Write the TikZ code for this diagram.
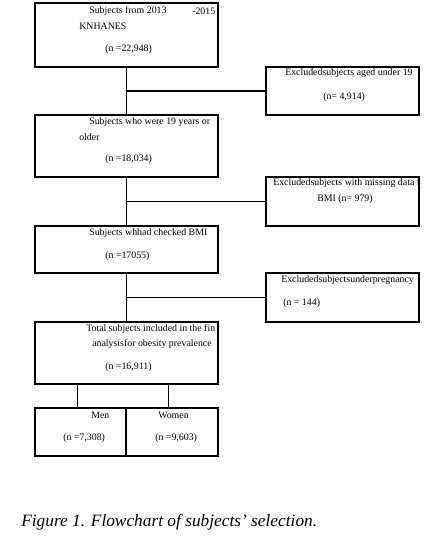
\documentclass[tikz,border=0pt]{standalone}
\usepackage{fontspec}
\setmainfont{Liberation Serif}

\begin{document}
\begin{tikzpicture}[x=0.75pt, y=-0.75pt,
  box/.style={draw, line width=1pt, rectangle, inner sep=0pt},
  txt/.style={anchor=west, inner sep=0pt, font=\fontsize{7.4}{9}\selectfont},
  trunk/.style={line width=1.3pt},
  link/.style={line width=0.5pt}]
\useasboundingbox (0,0) rectangle (441,537);

\node[box, minimum width=137.25pt, minimum height=48pt] (src) at (126.5,35) {};
\node[box, minimum width=114.75pt, minimum height=36pt] (excAge) at (342.5,91) {};
\node[box, minimum width=137.25pt, minimum height=46.5pt] (adult) at (126.5,146) {};
\node[box, minimum width=114.75pt, minimum height=36.75pt] (excBMI) at (342.5,201.5) {};
\node[box, minimum width=137.25pt, minimum height=35.25pt] (bmi) at (126.5,249.5) {};
\node[box, minimum width=114.75pt, minimum height=36.75pt] (excPreg) at (342.5,297.5) {};
\node[box, minimum width=137.25pt, minimum height=46.5pt] (total) at (126.5,353) {};
\node[box, line width=1.3pt, minimum width=68.25pt, minimum height=36pt] (men) at (80.5,432) {};
\node[box, line width=1.3pt, minimum width=69pt, minimum height=36pt] (women) at (172,432) {};

\draw[trunk] (src.south) -- (adult.north);
\draw[trunk] (adult.south) -- (bmi.north);
\draw[trunk] (bmi.south) -- (total.north);
\draw[trunk] (excAge.west) -- (excAge.west -| src.south);
\draw[trunk] (excBMI.west) -- (excBMI.west -| adult.south);
\draw[trunk] (excPreg.west) -- (excPreg.west -| bmi.south);
\draw[link] ([xshift=-2.6pt]men.north) -- ([xshift=-2.6pt]men.north |- total.south);
\draw[link] ([xshift=-3pt]women.north) -- ([xshift=-3pt]women.north |- total.south);

% texts
\node[txt] (srcA) at (89,11) {Subjects from 2013};
\node[txt] (srcB) at (192,11) {-2015};
\node[txt] (srcC) at (79,26) {KNHANES};
\node[txt] (srcN) at (105,49) {(n =22,948)};
\node[txt] (excAgeA) at (285,73) {Excludedsubjects aged under 19};
\node[txt] (excAgeN) at (323,97) {(n= 4,914)};
\node[txt] (adultA) at (89,122) {Subjects who were 19 years or};
\node[txt] (adultB) at (79,137) {older};
\node[txt] (adultN) at (105,159) {(n =18,034)};
\node[txt] (excBMIA) at (273,183) {Excludedsubjects with missing data f};
\node[txt] (excBMIN) at (317,199) {BMI (n= 979)};
\node[txt] (bmiA) at (89,233) {Subjects whhad checked BMI};
\node[txt] (bmiN) at (105,256) {(n =17055)};
\node[txt] (excPregA) at (281,280) {Excludedsubjectsunderpregnancy};
\node[txt] (excPregN) at (283,303) {(n = 144)};
\node[txt] (totalA) at (86,329) {Total subjects included in the fin};
\node[txt] (totalB) at (92,344) {analysisfor obesity prevalence};
\node[txt] (totalN) at (105,367) {(n =16,911)};
\node[txt] (menA) at (91,415) {Men};
\node[txt] (menN) at (63,438) {(n =7,308)};
\node[txt] (womenA) at (158,415) {Women};
\node[txt] (womenN) at (155,438) {(n =9,603)};

\node[anchor=west, inner sep=0pt, font=\fontsize{13}{15}\selectfont\itshape] (caption) at (21,522) {Figure 1. Flowchart of subjects' selection.};
\end{tikzpicture}
\end{document}
